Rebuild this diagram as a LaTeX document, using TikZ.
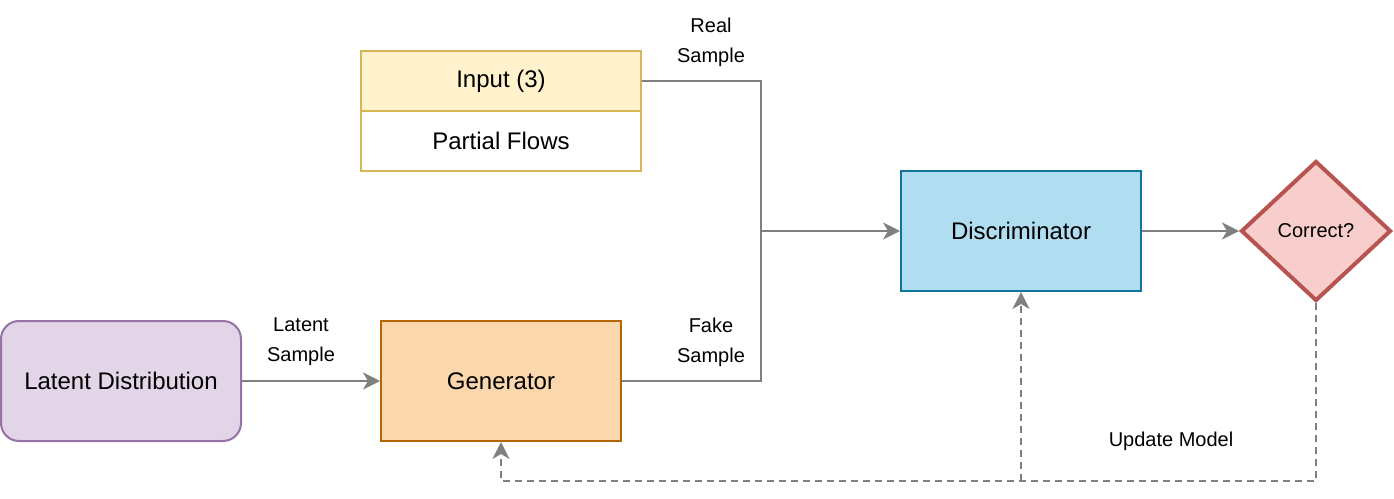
\documentclass[tikz,border=0pt]{standalone}
\usepackage{fontspec}
\setmainfont{Liberation Sans}
\usetikzlibrary{arrows.meta,shapes.geometric}
\definecolor{edgegray}{HTML}{808080}
\definecolor{inpfill}{HTML}{FFF2CC}
\definecolor{inpdraw}{HTML}{D6B656}
\definecolor{discfill}{HTML}{B1DDF0}
\definecolor{discdraw}{HTML}{10739E}
\definecolor{diafill}{HTML}{F8CECC}
\definecolor{diadraw}{HTML}{B85450}
\definecolor{latfill}{HTML}{E1D5E7}
\definecolor{latdraw}{HTML}{9673A6}
\definecolor{genfill}{HTML}{FAD7AC}
\definecolor{gendraw}{HTML}{B46504}
\tikzset{
  boxbase/.style={draw, line width=2pt, inner sep=0pt, align=center,
    font=\fontsize{24}{28}\selectfont},
  lbl/.style={align=center, inner sep=0pt, font=\fontsize{20}{30}\selectfont},
  conn/.style={draw=edgegray, line width=2pt},
  arr/.style={conn, -{Stealth[length=17pt,width=17pt,inset=5pt]}},
  dsh/.style={dash pattern=on 7pt off 5pt}
}
\begin{document}
\begin{tikzpicture}[x=1pt,y=-1pt]
\useasboundingbox (0,0) rectangle (1394,498);
\node[boxbase, fill=inpfill, draw=inpdraw, minimum width=280pt, minimum height=60pt] (inp) at (501,81) {Input (3)};
\node[boxbase, fill=white, draw=inpdraw, minimum width=280pt, minimum height=60pt] (pf) at (501,141) {Partial Flows};
\node[boxbase, fill=discfill, draw=discdraw, minimum width=240pt, minimum height=120pt] (disc) at (1021,231) {Discriminator};
\node[diamond, draw=diadraw, fill=diafill, line width=4pt, inner sep=0pt, minimum width=150pt, minimum height=140pt, font=\fontsize{20}{24}\selectfont] (dia) at (1316,231) {Correct?};
\node[boxbase, fill=latfill, draw=latdraw, rounded corners=18pt, minimum width=240pt, minimum height=120pt] (lat) at (121,381) {Latent Distribution};
\node[boxbase, fill=genfill, draw=gendraw, minimum width=240pt, minimum height=120pt] (gen) at (501,381) {Generator};

\node[lbl] (rs) at (711,42) {Real\\Sample};
\node[lbl] (ls) at (301,342) {Latent\\Sample};
\node[lbl] (fs) at (711,342) {Fake\\Sample};
\node[lbl] (um) at (1171,441) {Update Model};

\coordinate (j) at (761,231);
\coordinate (bl) at (501,481);

\draw[arr] (inp.east) -| (j) -- (disc.west);
\draw[conn] (gen.east) -| (j);
\draw[arr] (lat.east) -- (gen.west);
\draw[arr] (disc.east) -- (dia.west);
\draw[arr, dsh] (dia.south) |- (bl) -- (gen.south);
\draw[arr, dsh] (disc.south |- bl) -- (disc.south);
\end{tikzpicture}
\end{document}
